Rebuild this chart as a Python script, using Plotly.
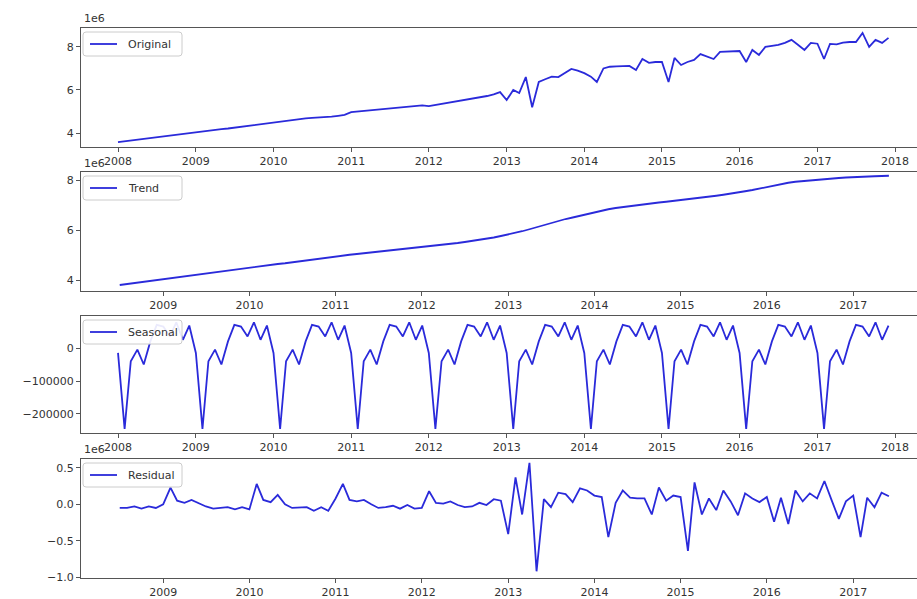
import pandas as pd
import plotly.graph_objects as go

# Monthly series, values of original / trend / residual in millions (1e6)
ORIGINAL = [
    3.58, 3.62, 3.66, 3.70, 3.73, 3.77, 3.81, 3.85, 3.89, 3.92, 3.96, 4.00,
    4.04, 4.07, 4.10, 4.14, 4.18, 4.21, 4.25, 4.29, 4.33, 4.37, 4.41, 4.44,
    4.48, 4.53, 4.57, 4.60, 4.64, 4.68, 4.70, 4.71, 4.73, 4.76, 4.80, 4.84,
    4.97, 5.00, 5.03, 5.06, 5.09, 5.11, 5.14, 5.17, 5.20, 5.23, 5.25, 5.28,
    5.25, 5.30, 5.35, 5.40, 5.45, 5.50, 5.55, 5.60, 5.65, 5.72, 5.80, 5.90,
    5.53, 6.00, 5.86, 6.60, 5.20, 6.37, 6.50, 6.62, 6.60, 6.78, 6.98, 6.90,
    6.78, 6.62, 6.37, 7.00, 7.08, 7.10, 7.10, 7.12, 6.93, 7.44, 7.26, 7.30,
    7.30, 6.37, 7.49, 7.16, 7.30, 7.40, 7.67, 7.55, 7.44, 7.77, 7.78, 7.80,
    7.81, 7.30, 7.86, 7.63, 8.00, 8.05, 8.10, 8.19, 8.33, 8.10, 7.86, 8.19,
    8.15, 7.44, 8.14, 8.12, 8.20, 8.23, 8.23, 8.65, 8.00, 8.33, 8.19, 8.42,
]

TREND = [
    3.80, 3.84, 3.87, 3.91, 3.95, 3.99,
    4.02, 4.06, 4.10, 4.13, 4.17, 4.21, 4.25, 4.29, 4.33, 4.37, 4.41, 4.45,
    4.49, 4.53, 4.56, 4.60, 4.64, 4.67, 4.71, 4.75, 4.79, 4.83, 4.87, 4.91,
    4.95, 4.98, 5.01, 5.04, 5.07, 5.10, 5.13, 5.16, 5.19, 5.22, 5.25, 5.27,
    5.30, 5.33, 5.36, 5.40, 5.44, 5.48, 5.52, 5.56, 5.60, 5.65, 5.70, 5.76,
    5.82, 5.88, 5.95, 6.03, 6.11, 6.20, 6.29, 6.37, 6.44, 6.50, 6.57, 6.64,
    6.72, 6.78, 6.83, 6.88, 6.92, 6.96, 7.00, 7.04, 7.07, 7.10, 7.13, 7.16,
    7.19, 7.22, 7.25, 7.29, 7.33, 7.37, 7.41, 7.45, 7.50, 7.55, 7.60, 7.66,
    7.72, 7.78, 7.84, 7.89, 7.93, 7.96, 7.99, 8.02, 8.04, 8.06, 8.08, 8.10,
    8.12, 8.13, 8.14, 8.15, 8.16, 8.17,
]

SEASONAL = [
    -15000, -245000, -40000, -5000, -50000, 20000, 70000, 65000, 35000, 78000, 25000, 68000,
    -15000, -245000, -40000, -5000, -50000, 20000, 70000, 65000, 35000, 78000, 25000, 68000,
    -15000, -245000, -40000, -5000, -50000, 20000, 70000, 65000, 35000, 78000, 25000, 68000,
    -15000, -245000, -40000, -5000, -50000, 20000, 70000, 65000, 35000, 78000, 25000, 68000,
    -15000, -245000, -40000, -5000, -50000, 20000, 70000, 65000, 35000, 78000, 25000, 68000,
    -15000, -245000, -40000, -5000, -50000, 20000, 70000, 65000, 35000, 78000, 25000, 68000,
    -15000, -245000, -40000, -5000, -50000, 20000, 70000, 65000, 35000, 78000, 25000, 68000,
    -15000, -245000, -40000, -5000, -50000, 20000, 70000, 65000, 35000, 78000, 25000, 68000,
    -15000, -245000, -40000, -5000, -50000, 20000, 70000, 65000, 35000, 78000, 25000, 68000,
    -15000, -245000, -40000, -5000, -50000, 20000, 70000, 65000, 35000, 78000, 25000, 68000,
]

RESIDUAL = [
    -0.05, -0.05, -0.03, -0.06, -0.03, -0.05,
    0.00, 0.23, 0.05, 0.02, 0.06, 0.01, -0.03, -0.06, -0.05, -0.04, -0.07, -0.04,
    -0.07, 0.28, 0.06, 0.03, 0.13, 0.00, -0.05, -0.05, -0.04, -0.09, -0.04, -0.09,
    0.08, 0.28, 0.06, 0.04, 0.06, 0.00, -0.05, -0.04, -0.02, -0.06, -0.01, -0.06,
    -0.05, 0.18, 0.02, 0.01, 0.04, -0.01, -0.04, -0.03, 0.02, -0.01, 0.07, 0.05,
    -0.41, 0.37, -0.14, 0.57, -0.92, 0.07, -0.04, 0.16, 0.14, 0.03, 0.22, 0.19,
    0.12, 0.10, -0.45, 0.02, 0.19, 0.09, 0.08, 0.08, -0.14, 0.23, 0.05, 0.12,
    0.10, -0.64, 0.30, -0.14, 0.08, -0.08, 0.19, 0.04, -0.15, 0.15, 0.08, 0.03,
    0.10, -0.24, 0.09, -0.27, 0.19, 0.04, 0.15, 0.08, 0.32, 0.06, -0.20, 0.04,
    0.12, -0.45, 0.09, -0.04, 0.16, 0.11,
]

FULL_START = "2008-01-01"   # original & seasonal
EDGE_START = "2008-07-01"   # trend & residual (moving-average edges dropped)

dates_full = pd.date_range(FULL_START, periods=len(ORIGINAL), freq="MS")
dates_edge = pd.date_range(EDGE_START, periods=len(TREND), freq="MS")

W, H = 917, 599
LINE = "#2a2ada"
FONT = "DejaVu Sans"
TXT = "#333333"
SPINE = "#555555"


def px_x(px):
    """Pixel column -> paper x."""
    return px / W


def px_y(px):
    """Pixel row (from top) -> paper y."""
    return 1 - px / H


# panel boxes in pixels (top, bottom)
boxes = [(28, 147), (172, 291), (316, 433), (459, 578)]
x_left = 81 / W

panels = [
    dict(name="Original", x=dates_full, y=ORIGINAL, xr=["2007-07-11", "2018-04-14"],
         yr=[3.35, 8.88], tickvals=[4, 6, 8], ticktext=["4", "6", "8"]),
    dict(name="Trend", x=dates_edge, y=TREND, xr=["2008-01-19", "2017-09-28"],
         yr=[3.56, 8.32], tickvals=[4, 6, 8], ticktext=["4", "6", "8"]),
    dict(name="Seasonal", x=dates_full, y=SEASONAL, xr=["2007-07-11", "2018-04-14"],
         yr=[-257600, 97000], tickvals=[-200000, -100000, 0],
         ticktext=["\u2212200000", "\u2212100000", "0"]),
    dict(name="Residual", x=dates_edge, y=RESIDUAL, xr=["2008-01-19", "2017-09-28"],
         yr=[-1.012, 0.622], tickvals=[-1.0, -0.5, 0.0, 0.5],
         ticktext=["\u22121.0", "\u22120.5", "0.0", "0.5"]),
]

fig = go.Figure()
layout = dict(
    width=W, height=H,
    margin=dict(l=0, r=0, t=0, b=0),
    paper_bgcolor="white", plot_bgcolor="white",
    font=dict(family=FONT, size=11, color=TXT),
    showlegend=False,
)
shapes = []
annotations = []


def rounded_box(x0, y0, x1, y1, r=3):
    """SVG path of a rounded rectangle given in pixels, emitted in paper units."""
    X, Y = px_x, px_y
    return (
        f"M {X(x0 + r)} {Y(y0)} L {X(x1 - r)} {Y(y0)} "
        f"Q {X(x1)} {Y(y0)} {X(x1)} {Y(y0 + r)} L {X(x1)} {Y(y1 - r)} "
        f"Q {X(x1)} {Y(y1)} {X(x1 - r)} {Y(y1)} L {X(x0 + r)} {Y(y1)} "
        f"Q {X(x0)} {Y(y1)} {X(x0)} {Y(y1 - r)} L {X(x0)} {Y(y0 + r)} "
        f"Q {X(x0)} {Y(y0)} {X(x0 + r)} {Y(y0)} Z"
    )


for i, p in enumerate(panels):
    n = i + 1
    xa = "x" if n == 1 else f"x{n}"
    ya = "y" if n == 1 else f"y{n}"
    fig.add_trace(go.Scatter(
        x=p["x"], y=p["y"], mode="lines", name=p["name"],
        line=dict(color=LINE, width=1.8),
        xaxis=xa, yaxis=ya, hoverinfo="skip",
    ))
    top, bot = boxes[i]
    xkey = "xaxis" if n == 1 else f"xaxis{n}"
    ykey = "yaxis" if n == 1 else f"yaxis{n}"
    layout[xkey] = dict(
        domain=[x_left, 1.0], anchor=ya, type="date", range=p["xr"],
        tick0="2008-01-01", dtick="M12", tickformat="%Y",
        showgrid=False, zeroline=False,
        showline=True, linecolor=SPINE, linewidth=1.2, mirror=True,
        ticks="outside", ticklen=4, tickwidth=1, tickcolor=SPINE,
        tickfont=dict(family=FONT, size=11, color=TXT), automargin=False,
    )
    layout[ykey] = dict(
        domain=[px_y(bot), px_y(top)], anchor=xa, range=p["yr"],
        tickvals=p["tickvals"], ticktext=p["ticktext"],
        showgrid=False, zeroline=False,
        showline=True, linecolor=SPINE, linewidth=1.2, mirror=False,
        ticks="outside", ticklen=4, tickwidth=1, tickcolor=SPINE,
        tickfont=dict(family=FONT, size=11, color=TXT), automargin=False,
    )

    # legend in the upper-left corner of each panel, drawn above the line
    cy = top + 16
    shapes.append(dict(
        type="path", xref="paper", yref="paper", layer="above",
        path=rounded_box(83, top + 4, 182, top + 28),
        fillcolor="rgba(255,255,255,0.9)", line=dict(color="#cccccc", width=1),
    ))
    shapes.append(dict(
        type="line", xref="paper", yref="paper", layer="above",
        x0=px_x(90), x1=px_x(117), y0=px_y(cy), y1=px_y(cy),
        line=dict(color=LINE, width=1.8),
    ))
    annotations.append(dict(
        x=px_x(126), y=px_y(cy), xref="paper", yref="paper",
        text=p["name"], showarrow=False, xanchor="left", yanchor="middle",
        font=dict(family=FONT, size=11, color=TXT),
    ))

# scale offset labels for the 1e6 panels
for ypx in (19, 163, 449):
    annotations.append(dict(
        x=px_x(82), y=px_y(ypx), xref="paper", yref="paper",
        text="1e6", showarrow=False, xanchor="left", yanchor="middle",
        font=dict(family=FONT, size=11, color=TXT),
    ))

layout["shapes"] = shapes
layout["annotations"] = annotations
fig.update_layout(**layout)

fig.write_html("out.html")
